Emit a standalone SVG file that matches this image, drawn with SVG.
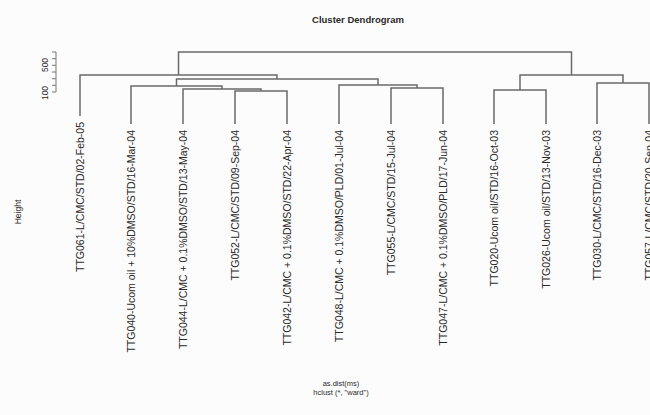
<svg xmlns="http://www.w3.org/2000/svg" width="650" height="415" viewBox="0 0 650 415">
<style>
text{font-family:"Liberation Sans",Arial,sans-serif;fill:#2a2a2a;}
.lbl{font-size:10.5px;text-anchor:end;}
.br{fill:none;stroke:#6a6a6a;stroke-width:1.5;}
.ax{fill:none;stroke:#777;stroke-width:1;}
</style>
<rect width="650" height="415" fill="#fcfcfc"/>
<text x="358" y="23" text-anchor="middle" font-size="9.5" font-weight="bold">Cluster Dendrogram</text>
<g id="y-axis">
<path class="ax" d="M56 52V92M52 52H56M52 58.7H56M52 65.3H56M52 72H56M52 78.7H56M52 85.3H56M52 92H56"/>
<text transform="translate(48,65) rotate(-90)" text-anchor="middle" font-size="8.5">500</text>
<text transform="translate(48,93) rotate(-90)" text-anchor="middle" font-size="8.5">100</text>
<text transform="translate(21,212) rotate(-90)" text-anchor="middle" font-size="8.5">Height</text>
</g>
<g id="connectors">
<path class="br" d="M235 124V91H287V124"/>
<path class="br" d="M183 124V89H261V91"/>
<path class="br" d="M131 124V86H222V89"/>
<path class="br" d="M391 124V88H443V124"/>
<path class="br" d="M339 124V85H417V88"/>
<path class="br" d="M176.5 86V79H378V85"/>
<path class="br" d="M80 116V75H277V79"/>
<path class="br" d="M494 124V90H546V124"/>
<path class="br" d="M597 124V83H649V124"/>
<path class="br" d="M520 90V75H623V83"/>
<path class="br" d="M178.5 75V52H571.5V75"/>
</g>
<g id="leaf-TTG061"><text class="lbl" transform="translate(84,122) rotate(-90)">TTG061-L/CMC/STD/02-Feb-05</text></g>
<g id="leaf-TTG040"><text class="lbl" transform="translate(135,130) rotate(-90)">TTG040-Ucom oil + 10%DMSO/STD/16-Mar-04</text></g>
<g id="leaf-TTG044"><text class="lbl" transform="translate(187,130) rotate(-90)">TTG044-L/CMC + 0.1%DMSO/STD/13-May-04</text></g>
<g id="leaf-TTG052"><text class="lbl" transform="translate(239,130) rotate(-90)">TTG052-L/CMC/STD/09-Sep-04</text></g>
<g id="leaf-TTG042"><text class="lbl" transform="translate(291,130) rotate(-90)">TTG042-L/CMC + 0.1%DMSO/STD/22-Apr-04</text></g>
<g id="leaf-TTG048"><text class="lbl" transform="translate(343,130) rotate(-90)">TTG048-L/CMC + 0.1%DMSO/PLD/01-Jul-04</text></g>
<g id="leaf-TTG055"><text class="lbl" transform="translate(395,130) rotate(-90)">TTG055-L/CMC/STD/15-Jul-04</text></g>
<g id="leaf-TTG047"><text class="lbl" transform="translate(447,130) rotate(-90)">TTG047-L/CMC + 0.1%DMSO/PLD/17-Jun-04</text></g>
<g id="leaf-TTG020"><text class="lbl" transform="translate(498,130) rotate(-90)">TTG020-Ucom oil/STD/16-Oct-03</text></g>
<g id="leaf-TTG026"><text class="lbl" transform="translate(550,130) rotate(-90)">TTG026-Ucom oil/STD/13-Nov-03</text></g>
<g id="leaf-TTG030"><text class="lbl" transform="translate(601,130) rotate(-90)">TTG030-L/CMC/STD/16-Dec-03</text></g>
<g id="leaf-TTG057"><text class="lbl" transform="translate(653,130) rotate(-90)">TTG057-L/CMC/STD/20-Sep-04</text></g>
<text x="341" y="386" text-anchor="middle" font-size="7.5">as.dist(ms)</text>
<text x="341" y="395" text-anchor="middle" font-size="7.5">hclust (*, "ward")</text>
</svg>
